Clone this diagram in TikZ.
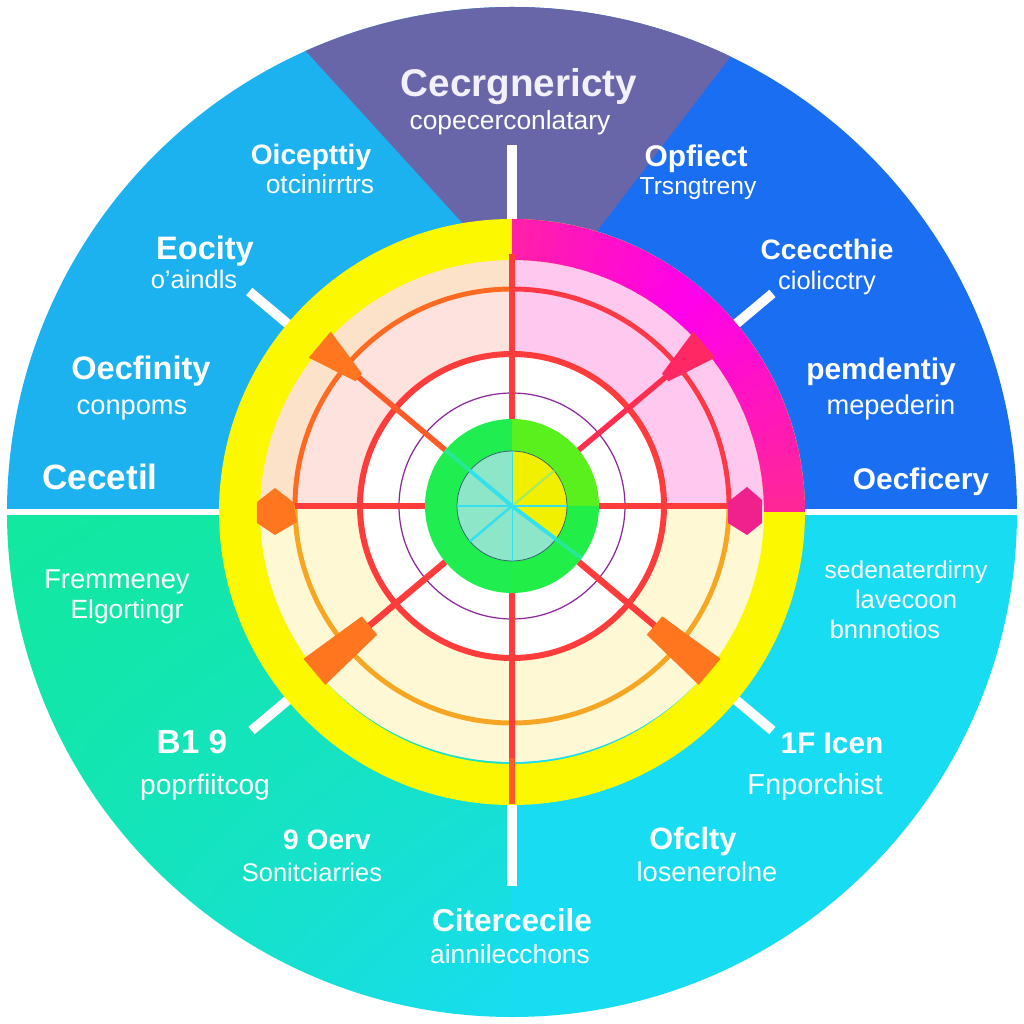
\documentclass[tikz,border=0pt]{standalone}
\usepackage{fontspec}
\setmainfont{Liberation Sans}
\usetikzlibrary{shadings}
\definecolor{skyTL}{RGB}{28,178,240}
\definecolor{blueTR}{RGB}{26,110,242}
\definecolor{slateTop}{RGB}{104,102,168}
\definecolor{mintBL}{RGB}{18,232,158}
\definecolor{cyanBR}{RGB}{24,220,242}
\definecolor{yellowR}{RGB}{252,248,0}
\definecolor{pinkA}{RGB}{255,40,150}
\definecolor{pinkM}{RGB}{255,0,235}
\definecolor{cream}{RGB}{255,248,212}
\definecolor{peachTL}{RGB}{252,226,200}
\definecolor{roseTL}{RGB}{253,226,222}
\definecolor{pinkTR}{RGB}{255,200,238}
\definecolor{orangeC}{RGB}{255,106,34}
\definecolor{redC}{RGB}{255,56,70}
\definecolor{amberC}{RGB}{246,166,35}
\definecolor{redS}{RGB}{255,60,60}
\definecolor{orangeS}{RGB}{255,90,40}
\definecolor{crimsonS}{RGB}{255,45,80}
\definecolor{orangeT}{RGB}{255,118,30}
\definecolor{crimsonT}{RGB}{255,40,100}
\definecolor{magentaD}{RGB}{240,32,140}
\definecolor{violetC}{RGB}{140,40,156}
\definecolor{greenL}{RGB}{32,238,80}
\definecolor{limeR}{RGB}{90,240,30}
\definecolor{greenBR}{RGB}{34,238,72}
\definecolor{tealD}{RGB}{142,230,200}
\definecolor{yellowD}{RGB}{240,240,0}
\definecolor{cyanL}{RGB}{50,224,238}
\definecolor{slateLine}{RGB}{44,90,106}
\definecolor{titleW}{RGB}{242,240,250}
\newcommand{\spokeTip}[6]{\fill[#6,rotate=#1] (#2,-#4) -- (#3,-#5) -- (#3,#5) -- (#2,#4) -- cycle;}
\begin{document}
\begin{tikzpicture}[x=0.02cm,y=0.02cm,
    lblB/.style={text=white,inner sep=0pt,text height=1.3ex,text depth=0pt,font=\bfseries\fontsize{#1}{#1}\selectfont},
    lblS/.style={text=white,inner sep=0pt,text height=1.3ex,text depth=0pt,font=\fontsize{#1}{#1}\selectfont},
    tickW/.style={white,line width=5.5pt},
    spokeR/.style={draw=redS,line width=3.1pt},
]
\useasboundingbox (-512,-512) rectangle (512,512);
\fill[white] (-512,-512) rectangle (512,512);
\begin{scope}
\clip (0,0) circle (505);
\fill[skyTL] (0,0) rectangle (-512,512);
\fill[blueTR] (0,0) rectangle (512,512);
\shade[upper left=mintBL,upper right=mintBL!80!cyanBR,lower left=mintBL!70!cyanBR,lower right=cyanBR] (0,0) rectangle (-512,-512);
\fill[cyanBR] (0,0) rectangle (512,-512);
\fill[slateTop] (-260,520) -- (268,520) -- (27,205) -- cycle;
\end{scope}
\draw[white,line width=3pt] (-512,0) -- (512,0);
\foreach \ang/\ra/\rb in {90/288/367,270/288/374,140/286/343,40/286/340,220/286/340,320/286/340}
    \draw[tickW] (\ang:\ra) -- (\ang:\rb);
\begin{scope}[shift={(0,6)}]
\fill[cream] (0,0) circle (256);
\fill[peachTL] (0,0) -- (90:256) arc[start angle=90,end angle=180,radius=256] -- cycle;
\fill[pinkTR] (0,0) -- (0:256) arc[start angle=0,end angle=90,radius=256] -- cycle;
\fill[roseTL] (0,0) -- (90:217) arc[start angle=90,end angle=180,radius=217] -- cycle;
\fill[white] (0,0) circle (152);
\end{scope}
\fill[yellowR,even odd rule] (0,0) circle (293) circle (252);
\foreach \a in {0,3,...,87}{
    \pgfmathtruncatemacro\mx{abs(\a+1.5-50)*2}
    \pgfmathsetmacro\b{min(\a+3.3,90)}
    \fill[pinkA!\mx!pinkM] (\a:252) arc[start angle=\a,end angle=\b,radius=252] -- (\b:293) arc[start angle=\b,end angle=\a,radius=293] -- cycle;
}
\begin{scope}[shift={(0,6)}]
\draw[orangeC,line width=2.8pt] (90:217) arc[start angle=90,end angle=180,radius=217];
\draw[redC,line width=2.8pt] (0:217) arc[start angle=0,end angle=90,radius=217];
\draw[amberC,line width=2.8pt] (180:217) arc[start angle=180,end angle=360,radius=217];
\draw[redS,line width=3.4pt] (0,0) circle (152);
\draw[violetC,line width=0.7pt] (0,0) circle (113);
\draw[spokeR] (90:87) -- (90:252);
\draw[spokeR] (270:87) -- (270:252);
\draw[spokeR,draw=orangeS] (270:252) -- (270:298);
\draw[spokeR] (180:87) -- (180:217);
\draw[spokeR] (0:87) -- (0:217);
\draw[spokeR,draw=orangeS] (140:87) -- (140:210);
\draw[spokeR,draw=crimsonS] (40:87) -- (40:210);
\draw[spokeR,line width=3.6pt] (220:87) -- (220:195);
\draw[spokeR,line width=3.6pt] (320:87) -- (320:195);
\spokeTip{140}{200}{251}{5}{17}{orangeT}
\spokeTip{40}{200}{251}{5}{17}{crimsonT}
\spokeTip{220}{186}{258}{12}{17}{orangeT}
\spokeTip{320}{186}{258}{12}{17}{orangeT}
\fill[greenL] (90:87) arc[start angle=90,end angle=270,radius=87] -- (270:55) arc[start angle=270,end angle=90,radius=55] -- cycle;
\fill[limeR] (0:87) arc[start angle=0,end angle=90,radius=87] -- (90:55) arc[start angle=90,end angle=0,radius=55] -- cycle;
\fill[greenBR] (270:87) arc[start angle=270,end angle=360,radius=87] -- (0:55) arc[start angle=360,end angle=270,radius=55] -- cycle;
\fill[tealD] (0,0) circle (55);
\fill[yellowD] (0,0) -- (-35:55) arc[start angle=-35,end angle=90,radius=55] -- cycle;
\draw[slateLine,line width=0.4pt] (0,0) circle (55);
\draw[cyanL,line width=2.2pt] (0,0) -- (140:55);
\draw[cyanL,line width=2.2pt] (0,0) -- (-37:55);
\draw[greenL!55!cyanL,line width=2.2pt] (140:55) -- (140:87);
\draw[greenL!55!cyanL,line width=2.2pt] (-37:55) -- (-37:87);
\draw[cyanL,line width=1.4pt] (0,0) -- (220:55);
\draw[cyanL!40!yellowD,line width=1.2pt] (0,0) -- (40:55);
\draw[cyanL,line width=0.7pt] (180:55) -- (0:55);
\draw[cyanL,line width=0.4pt] (90:55) -- (270:55);
\end{scope}
\fill[orangeT] (-255,10) -- (-237,24) -- (-219,10) -- (-215,-10) -- (-237,-23) -- (-255,-11) -- cycle;
\fill[magentaD] (216,10) -- (235,25) -- (250,12) -- (250,-11) -- (235,-23) -- (216,-11) -- cycle;
\begin{scope}[shift={(0,-5)}]
\node[lblB=22,text=titleW] (headTop) at (7,427) {Cecrgnericty};
\node[lblS=15] (subTop) at (-2,394) {copecerconlatary};
\node[lblB=16] (headTLa) at (-201,359) {Oicepttiy};
\node[lblS=15] (subTLa) at (-192,330) {otcinirrtrs};
\node[lblB=17] (headTRa) at (184,357) {Opfiect};
\node[lblS=14] (subTRa) at (186,329) {Trsngtreny};
\node[lblB=18.5] (headTLb) at (-307,264) {Eocity};
\node[lblS=14.5] (subTLb) at (-318,235) {o'aindls};
\node[lblB=16] (headTRb) at (315,264) {Cceccthie};
\node[lblS=14.5] (subTRb) at (315,234) {ciolicctry};
\node[lblB=18.5] (headTLc) at (-371,144) {Oecfinity};
\node[lblS=15.5] (subTLc) at (-380,109) {conpoms};
\node[lblB=17] (headTRc) at (369,144) {pemdentiy};
\node[lblS=15.5] (subTRc) at (379,109) {mepederin};
\node[lblB=20] (headTLd) at (-412,34) {Cecetil};
\node[lblB=17] (headTRd) at (409,34) {Oecficery};
\node[lblS=15.5] (subBLa) at (-395,-65) {Fremmeney};
\node[lblS=15] (subBLb) at (-385,-95) {Elgortingr};
\node[lblS=14] (subBRa) at (394,-55) {sedenaterdirny};
\node[lblS=14.5] (subBRb) at (394,-85) {lavecoon};
\node[lblS=14.5] (subBRc) at (373,-115) {bnnnotios};
\node[lblB=19] (headBLe) at (-320,-230) {B1 9};
\node[lblS=16] (subBLe) at (-307,-271) {poprfiitcog};
\node[lblB=17] (headBRe) at (320,-230) {1F Icen};
\node[lblS=16.5] (subBRe) at (303,-271) {Fnporchist};
\node[lblB=16] (headBLf) at (-185,-326) {9 Oerv};
\node[lblS=14.5] (subBLf) at (-200,-358) {Sonitciarries};
\node[lblB=17.5] (headBRf) at (181,-326) {Ofclty};
\node[lblS=15.5] (subBRf) at (195,-358) {losenerolne};
\node[lblB=18] (headBot) at (0,-408) {Citercecile};
\node[lblS=15] (subBot) at (-2,-440) {ainnilecchons};
\end{scope}
\end{tikzpicture}
\end{document}
